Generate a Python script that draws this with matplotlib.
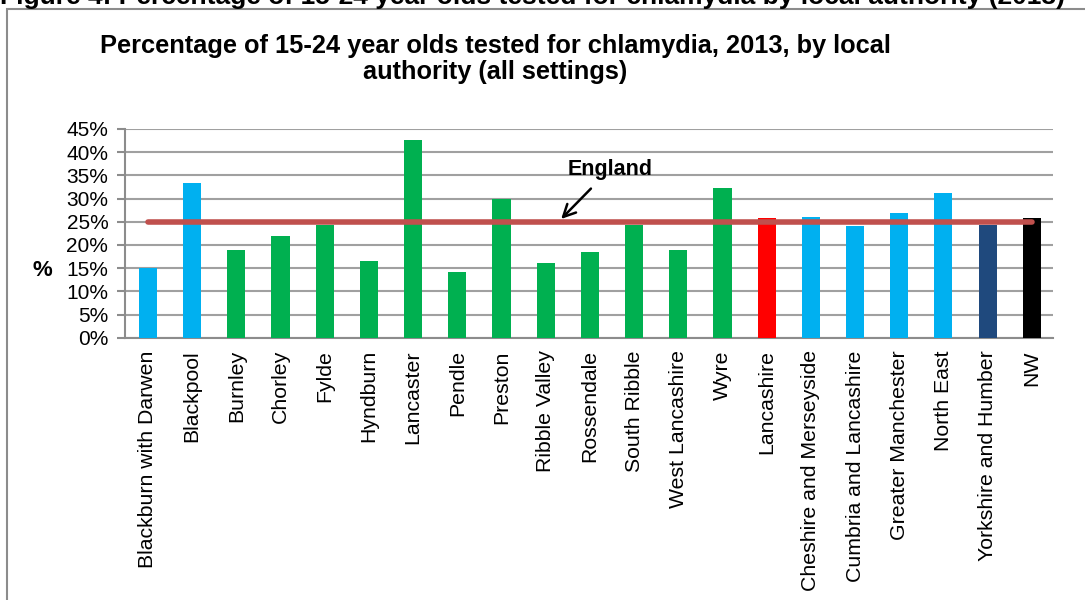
import matplotlib
matplotlib.use("Agg")
import matplotlib.pyplot as plt
from matplotlib.ticker import PercentFormatter, MultipleLocator
from matplotlib.patches import Rectangle

plt.rcParams['font.family'] = ['Liberation Sans', 'DejaVu Sans']

categories = ["Blackburn with Darwen", "Blackpool", "Burnley", "Chorley", "Fylde",
              "Hyndburn", "Lancaster", "Pendle", "Preston", "Ribble Valley",
              "Rossendale", "South Ribble", "West Lancashire", "Wyre", "Lancashire",
              "Cheshire and Merseyside", "Cumbria and Lancashire", "Greater Manchester",
              "North East", "Yorkshire and Humber", "NW"]
values = [15.0, 33.4, 18.9, 21.9, 24.3, 16.5, 42.6, 14.2, 29.9, 16.1,
          18.5, 24.4, 18.9, 32.3, 25.8, 26.0, 24.1, 26.8, 31.1, 24.4, 25.8]
bar_colors = ["#00B0F0", "#00B0F0"] + ["#00B050"] * 12 + ["#FF0000"] + ["#00B0F0"] * 4 + ["#1F497D", "#000000"]
england = 25.0

fig = plt.figure(figsize=(10.85, 6.0), dpi=100)
W, H = 1085, 600

# outer chart frame
fig.patches.append(Rectangle((7 / W, -0.05), 1.2, 1 - 9 / H + 0.05, transform=fig.transFigure,
                             fill=False, edgecolor="#8c8c8c", linewidth=1.5))

# cut-off caption at very top
fig.text(0.0, 1 - 4 / H, "Figure 4: Percentage of 15-24 year olds tested for chlamydia by local authority (2013)",
         fontsize=19, fontweight="bold", va="baseline", ha="left")

ax = fig.add_axes([125 / W, 1 - 337.7 / H, (1053 - 125) / W, (337.7 - 129) / H])
x = list(range(len(categories)))
ax.bar(x, values, width=0.41, color=bar_colors, zorder=3)
ax.plot([x[0], x[-1]], [england, england], color="#C0504D", linewidth=4, zorder=4,
        solid_capstyle="round")

ax.set_xlim(-0.52, len(categories) - 0.52)
ax.set_ylim(0, 45)
ax.yaxis.set_major_locator(MultipleLocator(5))
ax.yaxis.set_major_formatter(PercentFormatter(decimals=0))
ax.grid(axis="y", color="#a0a0a0", linewidth=1.5, zorder=0)
ax.set_axisbelow(True)
for s in ["top", "right"]:
    ax.spines[s].set_visible(False)
for s in ["left", "bottom"]:
    ax.spines[s].set_color("#8c8c8c")
    ax.spines[s].set_linewidth(1.5)
ax.tick_params(axis="y", length=6, width=1.5, color="#8c8c8c", labelsize=15, pad=6)
ax.tick_params(axis="x", length=0, labelsize=15.3, pad=9)
ax.set_xticks(x)
ax.set_xticklabels(categories, rotation=90, va="top", ha="center")

fig.text(42 / W, 1 - 271 / H, "%", fontsize=16, fontweight="bold", ha="center", va="center")

fig.text(495 / W, 1 - 46 / H, "Percentage of 15-24 year olds tested for chlamydia, 2013, by local",
         fontsize=18.3, fontweight="bold", ha="center", va="center")
fig.text(495 / W, 1 - 72 / H, "authority (all settings)",
         fontsize=18.3, fontweight="bold", ha="center", va="center")

ax.annotate("England", xy=(9.35, 25.6), xytext=(10.45, 36.3), textcoords="data",
            fontsize=15.5, fontweight="bold", ha="center", va="center",
            arrowprops=dict(arrowstyle="->", color="black", lw=1.8,
                            shrinkA=6, shrinkB=0, mutation_scale=22))

fig.savefig("out.png", dpi=100)
